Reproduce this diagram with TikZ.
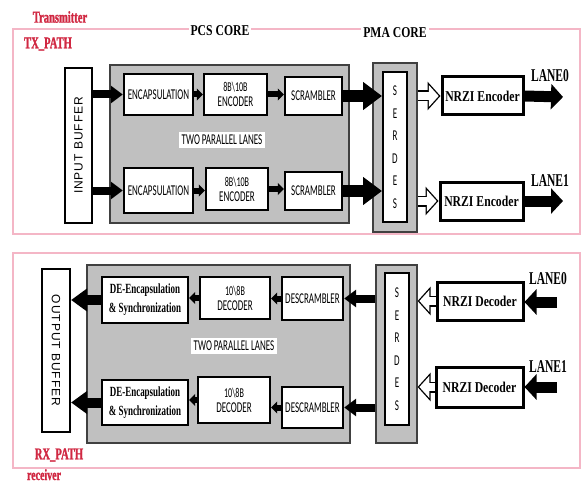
\documentclass[tikz,border=0pt]{standalone}
\usepackage{fontspec}
\setmainfont{Liberation Serif}
\newfontfamily\condserif[FakeStretch=0.78]{Liberation Serif}
\newfontfamily\tightserif[FakeStretch=0.64]{Liberation Serif}
\newfontfamily\redserif[FakeStretch=0.64, FakeBold=1.2]{Liberation Serif Bold}
\newfontfamily\narrowsans[FakeStretch=0.6]{Carlito}
\newfontfamily\bufont[LetterSpace=8]{Liberation Sans}
\newcommand\codesize{\fontsize{13.5}{13}\selectfont}
\usetikzlibrary{arrows.meta}
\definecolor{framepink}{RGB}{244,182,198}
\definecolor{labelred}{RGB}{208,40,66}
\definecolor{boxgray}{RGB}{192,192,192}

\begin{document}
\begin{tikzpicture}[x=1pt,y=-1pt]
		\tikzset{frame/.style = {draw=framepink, line width=1.6pt}}
		\tikzset{redlbl/.style = {text=labelred, inner sep=1pt, font=\redserif\fontsize{16.5}{16.5}\selectfont}}
		\tikzset{core/.style = {fill=white, inner sep=2pt, font=\condserif\bfseries\fontsize{15}{15}\selectfont}}
		\tikzset{graybox/.style = {draw=black!75, fill=boxgray, line width=1.2pt}}
		\tikzset{blk/.style = {draw, fill=white, line width=2.4pt, align=center, inner sep=1pt, font=\narrowsans\fontsize{15}{15}\selectfont}}
		\tikzset{sblk/.style = {blk, font=\tightserif\bfseries\fontsize{14}{19}\selectfont}}
		\tikzset{nrzi/.style = {draw, fill=white, line width=3pt, inner sep=1pt, font=\condserif\bfseries\fontsize{15}{15}\selectfont}}
		\tikzset{buf/.style = {draw, fill=white, line width=2.2pt, inner sep=0pt, font=\bufont\fontsize{12}{12}\selectfont}}
		\tikzset{serdes/.style = {draw, fill=white, line width=2pt, inner sep=0pt, align=center, font=\narrowsans\fontsize{15}{22.5}\selectfont}}
		\tikzset{lanes/.style = {fill=white, inner sep=3pt, font=\narrowsans\fontsize{15}{15}\selectfont}}
		\tikzset{lanelbl/.style = {inner sep=0pt, font=\tightserif\bfseries\fontsize{18}{18}\selectfont}}
		\tikzset{smallarrow/.style = {line width=6pt, -{Triangle[length=6pt,width=12pt]}}}
		\tikzset{bigarrow/.style = {line width=8pt, -{Triangle[length=12pt,width=17pt]}}}
		\tikzset{midarrow/.style = {line width=10pt, -{Triangle[length=16pt,width=22pt]}}}
		\tikzset{hugearrow/.style = {line width=12pt, -{Triangle[length=19pt,width=27pt]}}}
		\tikzset{lanearrow/.style = {line width=11pt, -{Triangle[length=12pt,width=25pt]}}}
		\tikzset{hollow/.style = {line width=11pt, -{Triangle[length=13pt,width=28pt]},
				postaction={draw=white, line width=8.4pt, shorten >=1.8pt, -{Triangle[length=9.9pt,width=21.3pt]}}}}
		
		\useasboundingbox (0,0) rectangle (583,484);
		
		% transmitter
		\draw[frame] (13,29) rectangle (580,234);
		\node[redlbl]  (txname) at (60,17) {Transmitter};
		\node[redlbl]  (txpath) at (48,44) {TX\_PATH};
		\node[core]  (pcs) at (220,31) {PCS CORE};
		\node[core]  (pma) at (395,33) {PMA CORE};
		
		\node[buf, minimum width=27pt, minimum height=155pt]  (inbuf) at (78.5,145.5) {\rotatebox{90}{INPUT BUFFER}};
		\node[graybox, minimum width=239pt, minimum height=158pt]  (pcsA) at (229.5,144) {};
		\node[lanes]  (lanesA) at (222,140) {TWO PARALLEL LANES};
		
		\node[blk, minimum width=69pt, minimum height=41pt]  (enc1) at (158.5,94.5) {ENCAPSULATION};
		\node[blk, minimum width=63pt, minimum height=41pt]  (cod1) at (235.5,94.5) {{\codesize 8B\textbackslash 10B}\\ENCODER};
		\node[blk, minimum width=57pt, minimum height=38pt]  (scr1) at (313.5,96) {SCRAMBLER};
		\node[blk, minimum width=69pt, minimum height=45pt]  (enc2) at (158.5,190.5) {ENCAPSULATION};
		\node[blk, minimum width=62pt, minimum height=42pt]  (cod2) at (237,189) {{\codesize 8B\textbackslash 10B}\\ENCODER};
		\node[blk, minimum width=57pt, minimum height=38pt]  (scr2) at (313.5,191) {SCRAMBLER};
		
		\node[graybox, minimum width=44pt, minimum height=169pt]  (serA) at (395,147.5) {};
		\node[serdes, minimum width=24pt, minimum height=150pt]  (serAin) at (395,147) {S\\E\\R\\D\\E\\S};
		
		\node[nrzi, minimum width=81pt, minimum height=38pt]  (nenc1) at (482.5,96) {NRZI Encoder};
		\node[nrzi, minimum width=83pt, minimum height=38pt]  (nenc2) at (481.5,201) {NRZI Encoder};
		\node[lanelbl]  (tlane0) at (550,76) {LANE0};
		\node[lanelbl]  (tlane1) at (550,181) {LANE1};
		\coordinate (tout0) at (563,97);
		\coordinate (tout1) at (563,201);
		
		\draw[bigarrow] (inbuf.east |- enc1.west) to (enc1.west);
		\draw[bigarrow] (inbuf.east |- enc2.west) to (enc2.west);
		\draw[smallarrow] (enc1) to (cod1.west |- enc1);
		\draw[smallarrow] (enc2) to (cod2.west |- enc2);
		\draw[smallarrow] (cod1) to (scr1.west |- cod1);
		\draw[smallarrow] (cod2) to (scr2.west |- cod2);
		\draw[hugearrow] (scr1.east) to (serAin.west |- scr1.east);
		\draw[hugearrow] (scr2.east) to (serAin.west |- scr2.east);
		\draw[hollow] (serA.east |- nenc1) to (nenc1.west);
		\draw[hollow] (serA.east |- nenc2) to (nenc2.west);
		\draw[lanearrow] (nenc1.east) to (tout0);
		\draw[lanearrow] (nenc2.east) to (tout1);
		
		% receiver
		\draw[frame] (13,253) rectangle (580,468);
		\node[redlbl, inner sep=0pt, text depth=0pt, anchor=base, font=\redserif\fontsize{15.5}{15.5}\selectfont]  (rxname) at (44,480) {receiver};
		\node[redlbl]  (rxpath) at (59,455) {RX\_PATH};
		
		\node[buf, minimum width=28pt, minimum height=163pt]  (outbuf) at (56,350.5) {\rotatebox{-90}{OUTPUT BUFFER}};
		\node[graybox, minimum width=263pt, minimum height=178pt]  (pcsB) at (218.5,354) {};
		\node[lanes]  (lanesB) at (234,346) {TWO PARALLEL LANES};
		
		\node[sblk, minimum width=86pt, minimum height=46pt]  (dec1) at (145,300) {DE-Encapsulation\\\&~Synchronization};
		\node[sblk, minimum width=86pt, minimum height=45pt]  (dec2) at (145,402.5) {DE-Encapsulation\\\&~Synchronization};
		\node[blk, minimum width=70pt, minimum height=42pt]  (dcod1) at (235,298) {{\codesize 10\textbackslash 8B}\\DECODER};
		\node[blk, minimum width=72pt, minimum height=46pt]  (dcod2) at (234,400) {{\codesize 10\textbackslash 8B}\\DECODER};
		\node[blk, minimum width=61pt, minimum height=43pt]  (dscr1) at (312.5,298.5) {DESCRAMBLER};
		\node[blk, minimum width=61pt, minimum height=41pt]  (dscr2) at (312.5,407.5) {DESCRAMBLER};
		
		\node[graybox, minimum width=41pt, minimum height=178pt]  (serB) at (396.5,354) {};
		\node[serdes, minimum width=24pt, minimum height=152pt]  (serBin) at (397,349) {S\\E\\R\\D\\E\\S};
		
		\node[nrzi, minimum width=86pt, minimum height=38pt]  (ndec1) at (480,301) {NRZI Decoder};
		\node[nrzi, minimum width=87pt, minimum height=40pt]  (ndec2) at (479.5,387) {NRZI Decoder};
		\node[lanelbl]  (rlane0) at (548,279) {LANE0};
		\node[lanelbl]  (rlane1) at (548,367) {LANE1};
		\coordinate (rin0) at (557,302);
		\coordinate (rin1) at (557,387);
		
		\draw[lanearrow] (rin0) to (ndec1.east |- rin0);
		\draw[lanearrow] (rin1) to (ndec2.east |- rin1);
		\draw[hollow] (ndec1.west) to (serB.east |- ndec1.west);
		\draw[hollow] (ndec2.west) to (serB.east |- ndec2.west);
		\draw[bigarrow] (serB.west |- dscr1.east) to (dscr1.east);
		\draw[bigarrow] (serB.west |- dscr2.east) to (dscr2.east);
		\draw[smallarrow] (dscr1) to (dcod1.east |- dscr1);
		\draw[smallarrow] (dscr2) to (dcod2.east |- dscr2);
		\draw[smallarrow] (dcod1) to (dec1.east |- dcod1);
		\draw[smallarrow] (dcod2) to (dec2.east |- dcod2);
		\draw[midarrow] (dec1.west) to (outbuf.east |- dec1.west);
		\draw[midarrow] (dec2.west) to (outbuf.east |- dec2.west);
		\end{tikzpicture}
\end{document}
